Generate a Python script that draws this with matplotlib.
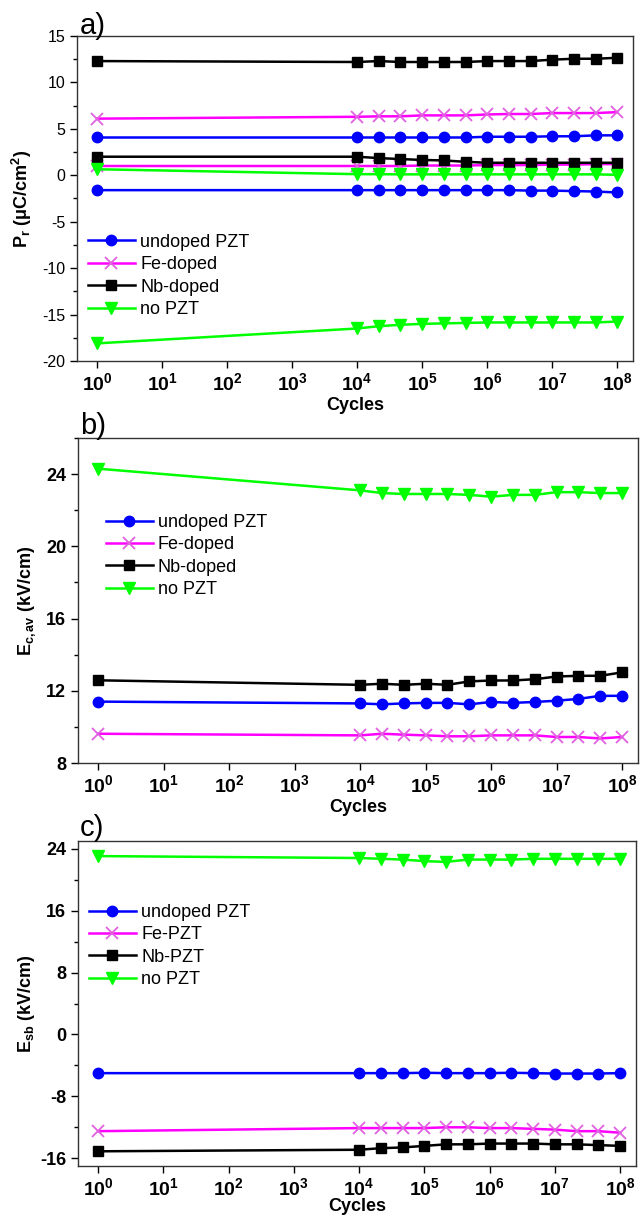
import numpy as np
import matplotlib
matplotlib.use("Agg")
import matplotlib.pyplot as plt
from matplotlib.ticker import FixedLocator, FuncFormatter, MultipleLocator, NullLocator

plt.rcParams['font.family'] = ['Liberation Sans', 'DejaVu Sans']
plt.rcParams['mathtext.fontset'] = 'custom'
plt.rcParams['mathtext.rm'] = 'Liberation Sans'
plt.rcParams['mathtext.bf'] = 'Liberation Sans:bold'
plt.rcParams['mathtext.it'] = 'Liberation Sans:italic'
plt.rcParams['axes.unicode_minus'] = False

# ---------------- data ----------------
cycles = [1, 1e4, 2.15e4, 4.64e4, 1e5, 2.15e5, 4.64e5, 1e6, 2.15e6, 4.64e6, 1e7, 2.15e7, 4.64e7, 1e8]

# Panel a: remanent polarisation (positive and negative branches)
pr_undoped_pos = [4.07, 4.07, 4.07, 4.07, 4.07, 4.07, 4.07, 4.15, 4.15, 4.15, 4.2, 4.2, 4.3, 4.3]
pr_undoped_neg = [-1.6, -1.6, -1.6, -1.6, -1.6, -1.6, -1.6, -1.6, -1.6, -1.65, -1.65, -1.7, -1.75, -1.85]
pr_fe_pos = [6.1, 6.3, 6.35, 6.35, 6.45, 6.45, 6.45, 6.55, 6.6, 6.6, 6.7, 6.7, 6.7, 6.8]
pr_fe_neg = [1.0, 1.0, 1.0, 1.0, 1.05, 1.05, 1.05, 1.1, 1.1, 1.1, 1.15, 1.15, 1.2, 1.2]
pr_nb_pos = [12.3, 12.2, 12.3, 12.2, 12.2, 12.2, 12.2, 12.3, 12.3, 12.3, 12.45, 12.55, 12.55, 12.65]
pr_nb_neg = [2.0, 2.0, 1.85, 1.75, 1.65, 1.6, 1.45, 1.35, 1.35, 1.35, 1.35, 1.35, 1.35, 1.35]
pr_no_pos = [0.65, 0.12, 0.12, 0.1, 0.1, 0.1, 0.1, 0.1, 0.1, 0.1, 0.1, 0.1, 0.1, 0.05]
pr_no_neg = [-18.1, -16.5, -16.25, -16.1, -16.0, -15.95, -15.9, -15.85, -15.85, -15.85, -15.85, -15.85, -15.85, -15.75]

# Panel b: average coercive field
ec_undoped = [11.4, 11.3, 11.25, 11.3, 11.33, 11.33, 11.25, 11.38, 11.33, 11.38, 11.45, 11.55, 11.72, 11.72]
ec_fe = [9.62, 9.53, 9.62, 9.57, 9.53, 9.48, 9.48, 9.53, 9.53, 9.53, 9.44, 9.44, 9.36, 9.44]
ec_nb = [12.58, 12.33, 12.39, 12.33, 12.39, 12.33, 12.52, 12.57, 12.57, 12.64, 12.79, 12.83, 12.83, 13.02]
ec_no = [24.3, 23.1, 22.95, 22.9, 22.9, 22.9, 22.85, 22.75, 22.85, 22.85, 23.0, 23.0, 22.95, 22.95]

# Panel c: built-in (shift) field
esb_undoped = [-5.0, -5.0, -5.0, -5.0, -4.95, -5.0, -5.0, -5.0, -4.95, -5.0, -5.05, -5.05, -5.05, -5.0]
esb_fe = [-12.5, -12.1, -12.1, -12.1, -12.1, -12.0, -12.0, -12.1, -12.1, -12.2, -12.3, -12.5, -12.5, -12.7]
esb_nb = [-15.1, -14.9, -14.7, -14.6, -14.4, -14.2, -14.2, -14.1, -14.1, -14.1, -14.2, -14.2, -14.3, -14.4]
esb_no = [23.05, 22.8, 22.7, 22.6, 22.4, 22.3, 22.6, 22.6, 22.6, 22.7, 22.7, 22.7, 22.7, 22.7]

labels_ab = ["undoped PZT", "Fe-doped", "Nb-doped", "no PZT"]
labels_c = ["undoped PZT", "Fe-PZT", "Nb-PZT", "no PZT"]

BLUE = '#0000FF'
MAG = '#FF00FF'
BLACK = '#000000'
GREEN = '#00FF00'

styles = [
    dict(color=BLUE, marker='o', markersize=7.5, mfc=BLUE, mec=BLUE),
    dict(color=MAG, marker='x', markersize=9, mec='#E060E0', mew=1.3),
    dict(color=BLACK, marker='s', markersize=6.5, mfc=BLACK, mec=BLACK),
    dict(color=GREEN, marker='v', markersize=8, mfc=GREEN, mec=GREEN),
]

fig = plt.figure(figsize=(6.41, 12.16), dpi=100)
W, H = 641.0, 1216.0

def add_axes(l, r, t, b):
    return fig.add_axes([l / W, 1 - b / H, (r - l) / W, (b - t) / H])

axa = add_axes(77, 633, 36, 361)
axb = add_axes(78, 638, 438, 763)
axc = add_axes(78, 636, 841, 1166)

def xfmt(v, pos):
    n = int(round(np.log10(v)))
    return r'$\mathbf{10^{%d}}$' % n

def style_axes(ax, bold_y, xlabelpad=2):
    ax.set_xscale('log')
    ax.set_xlim(0.49, 1.75e8)
    ax.xaxis.set_major_locator(FixedLocator([10.0 ** k for k in range(9)]))
    ax.xaxis.set_minor_locator(NullLocator())
    ax.xaxis.set_major_formatter(FuncFormatter(xfmt))
    ax.tick_params(axis='x', which='major', direction='out', length=5, width=1,
                   labelsize=14, pad=3)
    ax.tick_params(axis='y', which='major', direction='out', length=5, width=1,
                   labelsize=13 if bold_y else 11.5)
    ax.tick_params(axis='y', which='minor', direction='out', length=3, width=1)
    ax.tick_params(top=False, right=False)
    if bold_y:
        for t in ax.get_yticklabels():
            t.set_fontweight('bold')
    for s in ax.spines.values():
        s.set_linewidth(1.0)
        s.set_color('#333333')
    ax.set_xlabel('Cycles', fontsize=13, fontweight='bold', labelpad=xlabelpad)

lw = 1.8
leg_kw = dict(loc='upper left', frameon=False, fontsize=13, handlelength=2.6,
              handletextpad=0.3, labelspacing=0.3, borderaxespad=0.2)

# Panel a
pairs = [(pr_undoped_pos, pr_undoped_neg), (pr_fe_pos, pr_fe_neg),
         (pr_nb_pos, pr_nb_neg), (pr_no_pos, pr_no_neg)]
handles = []
for (pos, neg), st, lab in zip(pairs, styles, labels_ab):
    h, = axa.plot(cycles, pos, lw=lw, label=lab, **st)
    axa.plot(cycles, neg, lw=lw, **st)
    handles.append(h)
axa.set_ylim(-20, 15)
axa.yaxis.set_major_locator(MultipleLocator(5))
axa.yaxis.set_minor_locator(MultipleLocator(2.5))
style_axes(axa, bold_y=False)
axa.set_ylabel(r'P$_\mathbf{r}$ (μC/cm$^\mathbf{2}$)', fontsize=13, fontweight='bold', labelpad=6)
axa.legend(handles=handles, bbox_to_anchor=(0.0, 0.425), **leg_kw)

# Panel b
for ys, st, lab in zip([ec_undoped, ec_fe, ec_nb, ec_no], styles, labels_ab):
    axb.plot(cycles, ys, lw=lw, label=lab, **st)
axb.set_ylim(8, 26)
axb.yaxis.set_major_locator(MultipleLocator(4))
axb.yaxis.set_minor_locator(MultipleLocator(2))
style_axes(axb, bold_y=True)
axb.set_ylabel(r'E$_\mathbf{c,av}$ (kV/cm)', fontsize=13, fontweight='bold', labelpad=6)
axb.legend(bbox_to_anchor=(0.03, 0.80), **leg_kw)

# Panel c
for ys, st, lab in zip([esb_undoped, esb_fe, esb_nb, esb_no], styles, labels_c):
    axc.plot(cycles, ys, lw=lw, label=lab, **st)
axc.set_ylim(-17, 25)
axc.yaxis.set_major_locator(MultipleLocator(8))
axc.yaxis.set_minor_locator(MultipleLocator(4))
style_axes(axc, bold_y=True, xlabelpad=-1)
axc.set_ylabel(r'E$_\mathbf{sb}$ (kV/cm)', fontsize=13, fontweight='bold', labelpad=2)
axc.legend(bbox_to_anchor=(0.0, 0.84), **leg_kw)

# Panel letters
fig.text(80 / W, 1 - 34 / H, 'a)', fontsize=21, ha='left', va='baseline')
fig.text(80 / W, 1 - 434 / H, 'b)', fontsize=21, ha='left', va='baseline')
fig.text(80 / W, 1 - 836 / H, 'c)', fontsize=21, ha='left', va='baseline')

fig.savefig('out.png', dpi=100)
